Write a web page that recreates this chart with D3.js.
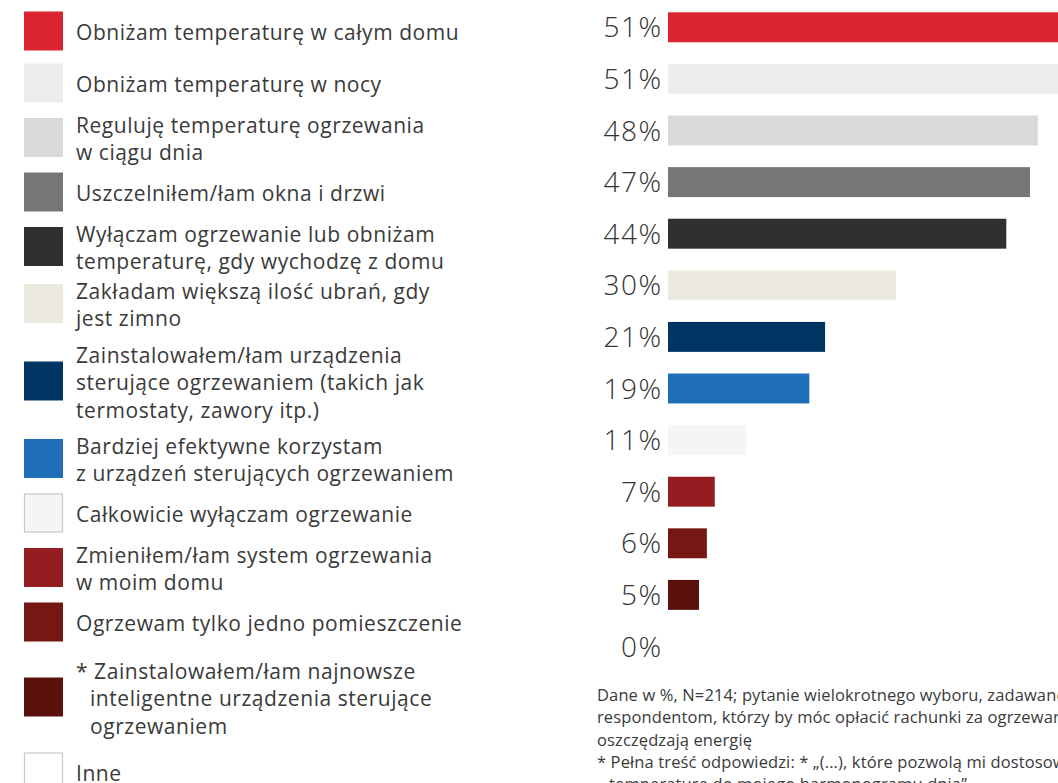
<!DOCTYPE html>
<html>
<head>
<meta charset="utf-8">
<script src="https://cdn.jsdelivr.net/npm/d3@7"></script>
<style>
  body { margin: 0; background: #fff; }
  svg { display: block; font-family: "Open Sans", sans-serif; }
  .pct { font-size: 28px; fill: #333; font-weight: 300; letter-spacing: 1.5px; }
  .leg { font-size: 21px; fill: #3a3a3a; letter-spacing: 0.55px; }
  .note { font-size: 16.5px; fill: #3a3a3a; letter-spacing: 0.12px; }
</style>
</head>
<body>
<div id="chart"></div>
<script>
// data
const categories = [
    "Obniżam temperaturę w całym domu",
    "Obniżam temperaturę w nocy",
    "Reguluję temperaturę ogrzewania w ciągu dnia",
    "Uszczelniłem/łam okna i drzwi",
    "Wyłączam ogrzewanie lub obniżam temperaturę, gdy wychodzę z domu",
    "Zakładam większą ilość ubrań, gdy jest zimno",
    "Zainstalowałem/łam urządzenia sterujące ogrzewaniem (takich jak termostaty, zawory itp.)",
    "Bardziej efektywne korzystam z urządzeń sterujących ogrzewaniem",
    "Całkowicie wyłączam ogrzewanie",
    "Zmieniłem/łam system ogrzewania w moim domu",
    "Ogrzewam tylko jedno pomieszczenie",
    "* Zainstalowałem/łam najnowsze inteligentne urządzenia sterujące ogrzewaniem",
    "Inne"
];
// legend text split into lines as in the original
const legendLines = [
    ["Obniżam temperaturę w całym domu"],
    ["Obniżam temperaturę w nocy"],
    ["Reguluję temperaturę ogrzewania", "w ciągu dnia"],
    ["Uszczelniłem/łam okna i drzwi"],
    ["Wyłączam ogrzewanie lub obniżam", "temperaturę, gdy wychodzę z domu"],
    ["Zakładam większą ilość ubrań, gdy", "jest zimno"],
    ["Zainstalowałem/łam urządzenia", "sterujące ogrzewaniem (takich jak", "termostaty, zawory itp.)"],
    ["Bardziej efektywne korzystam", "z urządzeń sterujących ogrzewaniem"],
    ["Całkowicie wyłączam ogrzewanie"],
    ["Zmieniłem/łam system ogrzewania", "w moim domu"],
    ["Ogrzewam tylko jedno pomieszczenie"],
    ["* Zainstalowałem/łam najnowsze", "inteligentne urządzenia sterujące", "ogrzewaniem"],
    ["Inne"]
];
const values = [51, 51, 48, 47, 44, 30, 21, 19, 11, 7, 6, 5, 0];
const labels = ["51%", "51%", "48%", "47%", "44%", "30%", "21%", "19%", "11%", "7%", "6%", "5%", "0%"];
const colors = ["#dc2430", "#ececec", "#d9d9d9", "#767676", "#303030", "#eceadf",
                "#003462", "#1e6fb8", "#f5f5f5", "#931d21", "#751713", "#5c120c", "#ffffff"];
const outlined = ["Całkowicie wyłączam ogrzewanie", "Inne"];
const noteLines = [
    "Dane w %, N=214; pytanie wielokrotnego wyboru, zadawane",
    "respondentom, którzy by móc opłacić rachunki za ogrzewanie",
    "oszczędzają energię",
    "* Pełna treść odpowiedzi: * „(...), które pozwolą mi dostosować",
    "  temperaturę do mojego harmonogramu dnia”"
];

const W = 1058, H = 783;

const svg = d3.select("#chart")
    .append("svg")
    .attr("width", W)
    .attr("height", H);

// bar chart scales
const x = d3.scaleLinear()
    .domain([0, 51])
    .range([659.6, 659.6 + 51 * 7.88]);

const y = d3.scaleBand()
    .domain(categories)
    .range([1.5, 1.5 + 13 * 51.6])
    .paddingInner(0.42)
    .paddingOuter(0.21);

svg.append("clipPath")
    .attr("id", "plot-clip")
    .append("rect")
    .attr("x", 668)
    .attr("y", 0)
    .attr("width", W - 668)
    .attr("height", H);

// Bars
svg.append("g")
    .attr("clip-path", "url(#plot-clip)")
    .selectAll("rect")
    .data(categories)
    .join("rect")
    .attr("x", x(0))
    .attr("y", d => y(d))
    .attr("width", (d, i) => x(values[i]) - x(0))
    .attr("height", y.bandwidth())
    .attr("fill", (d, i) => colors[i]);

// percentage labels
svg.append("g")
    .selectAll("text")
    .data(categories)
    .join("text")
    .attr("class", "pct")
    .attr("x", 662.5)
    .attr("y", d => y(d) + y.bandwidth() / 2)
    .attr("dy", "0.36em")
    .attr("text-anchor", "end")
    .text((d, i) => labels[i]);

// Legend - rows grow with the number of text lines
const lineH = 27.5;
const legendCenters = [];
legendLines.forEach((lines, i) => {
    if (i === 0) { legendCenters.push(30.5); return; }
    const a = legendLines[i - 1].length, b = lines.length;
    let gap = 52 + 2.5 * (a - 1 + b - 1);
    if (Math.max(a, b) === 3) gap += 18;
    legendCenters.push(legendCenters[i - 1] + gap);
});

const legend = svg.append("g")
    .selectAll("g")
    .data(categories)
    .join("g")
    .attr("transform", (d, i) => `translate(0,${legendCenters[i]})`);

legend.append("rect")
    .attr("x", d => outlined.includes(d) ? 24.5 : 24)
    .attr("y", d => outlined.includes(d) ? -18.5 : -19)
    .attr("width", d => outlined.includes(d) ? 38 : 39)
    .attr("height", d => outlined.includes(d) ? 38 : 39)
    .attr("fill", (d, i) => colors[i])
    .attr("stroke", d => outlined.includes(d) ? "#c8c8c8" : "none")
    .attr("stroke-width", 1.2);

legend.each(function(d, i) {
    const lines = legendLines[i];
    const g = d3.select(this);
    const top = -(lines.length - 1) * lineH / 2 + 2;
    lines.forEach((ln, j) => {
        const hanging = ln.startsWith("* ") ? false : legendLines[i][0].startsWith("* ");
        g.append("text")
            .attr("class", "leg")
            .attr("x", hanging ? 90 : 76)
            .attr("y", top + j * lineH)
            .attr("dy", "0.36em")
            .text(ln);
    });
});

// footnote
svg.append("g")
    .selectAll("text")
    .data(noteLines)
    .join("text")
    .attr("class", "note")
    .attr("x", d => d.startsWith("  ") ? 609 : 597)
    .attr("y", (d, i) => 701 + i * 22.3)
    .text(d => d.trim());
</script>
</body>
</html>
